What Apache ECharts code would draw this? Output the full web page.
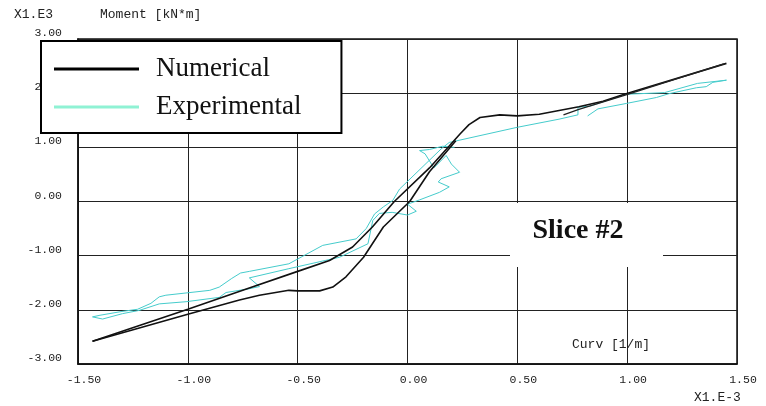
<!DOCTYPE html>
<html><head><meta charset="utf-8">
<script src="https://cdn.jsdelivr.net/npm/echarts@6/dist/echarts.min.js"></script>
<style>html,body{margin:0;padding:0;background:#fff}#c{width:766px;height:406px}</style>
</head><body><div id="c"></div>
<script>
// x: curvature (x1e-3 1/m), y: moment (x1e3 kN*m)
const xRange = [-1.5, 1.5];
const yRange = [-3, 3];

// Numerical: branch through the negative plateau
const numericalBranchA = [
  [0.22,1.12],[0.10,0.55],[0.01,0.0],[-0.11,-0.47],[-0.20,-1.03],[-0.28,-1.39],[-0.34,-1.58],
  [-0.40,-1.65],[-0.50,-1.65],[-0.54,-1.64],[-0.674,-1.73],[-0.765,-1.82],[-1.0,-2.08],[-1.434,-2.58]
];
// Numerical: reloading branch through the positive plateau
const numericalBranchB = [
  [-1.434,-2.58],[-1.0,-1.99],[-0.75,-1.64],[-0.5,-1.29],[-0.355,-1.09],[-0.25,-0.84],
  [-0.16,-0.47],[-0.06,0.0],[0.10,0.62],[0.24,1.25],[0.28,1.42],[0.33,1.55],[0.42,1.60],
  [0.50,1.58],[0.60,1.61],[0.69,1.68],[0.78,1.75],[0.89,1.85],[0.98,1.97],[1.452,2.55]
];
// Numerical: short unloading strand near the positive peak
const numericalBranchC = [
  [0.71,1.60],[0.78,1.70],[0.98,1.95],[1.44,2.54]
];

// Experimental
const experimentalPath = [
  [0.82,1.58],[0.867,1.71],[0.996,1.81],[1.133,1.92],[1.19,1.99],[1.315,2.10],[1.36,2.12],
  [1.39,2.20],[1.452,2.24],[1.452,2.26],[1.32,2.18],[1.17,2.01],[0.996,1.98],[0.83,1.76],
  [0.776,1.74],[0.776,1.60],[0.69,1.52],[0.5,1.37],[0.19,1.09],[0.153,0.97],[-0.036,0.23],
  [-0.067,0.02],[-0.11,-0.10],[-0.15,-0.23],[-0.188,-0.50],[-0.234,-0.69],[-0.386,-0.81],
  [-0.54,-1.15],[-0.72,-1.29],[-0.76,-1.32],[-0.80,-1.42],[-0.857,-1.58],[-0.90,-1.64],
  [-1.10,-1.73],[-1.13,-1.76],[-1.168,-1.88],[-1.229,-1.99],[-1.30,-2.03],[-1.40,-2.10],
  [-1.434,-2.13],[-1.43,-2.16],[-1.388,-2.17],[-1.297,-2.07],[-1.221,-2.01],[-1.13,-1.89],
  [-1.008,-1.85],[-0.857,-1.77],[-0.826,-1.68],[-0.72,-1.61],[-0.674,-1.57],[-0.72,-1.41],
  [-0.54,-1.24],[-0.31,-1.03],[-0.18,-0.78],[-0.158,-0.35],[-0.128,-0.22],[-0.07,-0.20],
  [0.0,-0.25],[0.04,-0.18],[0.0,-0.05],[0.055,0.03],[0.146,0.17],[0.19,0.27],[0.14,0.36],
  [0.153,0.42],[0.237,0.54],[0.20,0.69],[0.176,0.85],[0.12,0.62],[0.08,0.88],[0.055,0.94],
  [0.10,0.96],[0.16,1.02],[0.214,1.0]
];

const chart = echarts.init(document.getElementById('c'), null, {renderer:'canvas'});
const monoFont = 'Liberation Mono';
const blackStyle = {color:'#111', width:1.6};
const cyanStyle = {color:'#45cccc', width:1};

chart.setOption({
  animation:false,
  backgroundColor:'#fff',
  grid:{left:78, right:29, top:39, bottom:42, show:true, borderColor:'#111', borderWidth:1.5, backgroundColor:'transparent'},
  xAxis:{type:'value', min:xRange[0], max:xRange[1], interval:0.5,
    axisLine:{show:true, onZero:false, lineStyle:{color:'#111', width:1.5}}, axisTick:{show:false},
    splitLine:{show:true, lineStyle:{color:'#222', width:1}},
    axisLabel:{formatter:v=>v.toFixed(2), color:'#222', fontFamily:monoFont, fontSize:11.5, margin:10, padding:[0,0,0,12]}},
  yAxis:{type:'value', min:yRange[0], max:yRange[1], interval:1,
    axisLine:{show:true, onZero:false, lineStyle:{color:'#111', width:1.5}}, axisTick:{show:false},
    splitLine:{show:true, lineStyle:{color:'#222', width:1}},
    axisLabel:{formatter:v=>v.toFixed(2), color:'#222', fontFamily:monoFont, fontSize:11.5, margin:16, verticalAlign:'bottom'}},
  legend:{orient:'vertical', left:41, top:41, padding:[13,40,11,13], itemWidth:85, itemHeight:3, itemGap:8,
    icon:'rect', backgroundColor:'#fff', borderColor:'#000', borderWidth:2,
    textStyle:{fontFamily:'Liberation Serif', fontSize:27, lineHeight:30, color:'#111', padding:[0,0,0,12]},
    data:[{name:'Numerical', itemStyle:{color:'#000'}}, {name:'Experimental', itemStyle:{color:'#8ff2d4'}}]},
  series:[
    {name:'Experimental', type:'line', data:experimentalPath, showSymbol:false, lineStyle:cyanStyle, itemStyle:{color:'#8ff2d4'}},
    {name:'Numerical', type:'line', data:numericalBranchA, showSymbol:false, lineStyle:blackStyle, itemStyle:{color:'#000'}},
    {name:'Numerical', type:'line', data:numericalBranchB, showSymbol:false, lineStyle:blackStyle, itemStyle:{color:'#000'}},
    {name:'Numerical', type:'line', data:numericalBranchC, showSymbol:false, lineStyle:{color:'#222', width:1.2}, itemStyle:{color:'#000'}}
  ],
  graphic:[
    {type:'text', left:14, top:8, style:{text:'X1.E3', font:'13px "Liberation Mono"', fill:'#222'}},
    {type:'text', left:100, top:8, style:{text:'Moment [kN*m]', font:'13px "Liberation Mono"', fill:'#222'}},
    {type:'text', left:572, top:338, style:{text:'Curv [1/m]', font:'13px "Liberation Mono"', fill:'#222'}},
    {type:'text', left:694, top:391, style:{text:'X1.E-3', font:'13px "Liberation Mono"', fill:'#222'}},
    {type:'rect', shape:{x:510, y:203, width:153, height:64}, style:{fill:'#fff'}, z:10},
    {type:'text', x:578, y:231, z:11, style:{text:'Slice #2', font:'bold 28px "Liberation Serif"', fill:'#111', align:'center', verticalAlign:'middle'}}
  ]
});
</script></body></html>
